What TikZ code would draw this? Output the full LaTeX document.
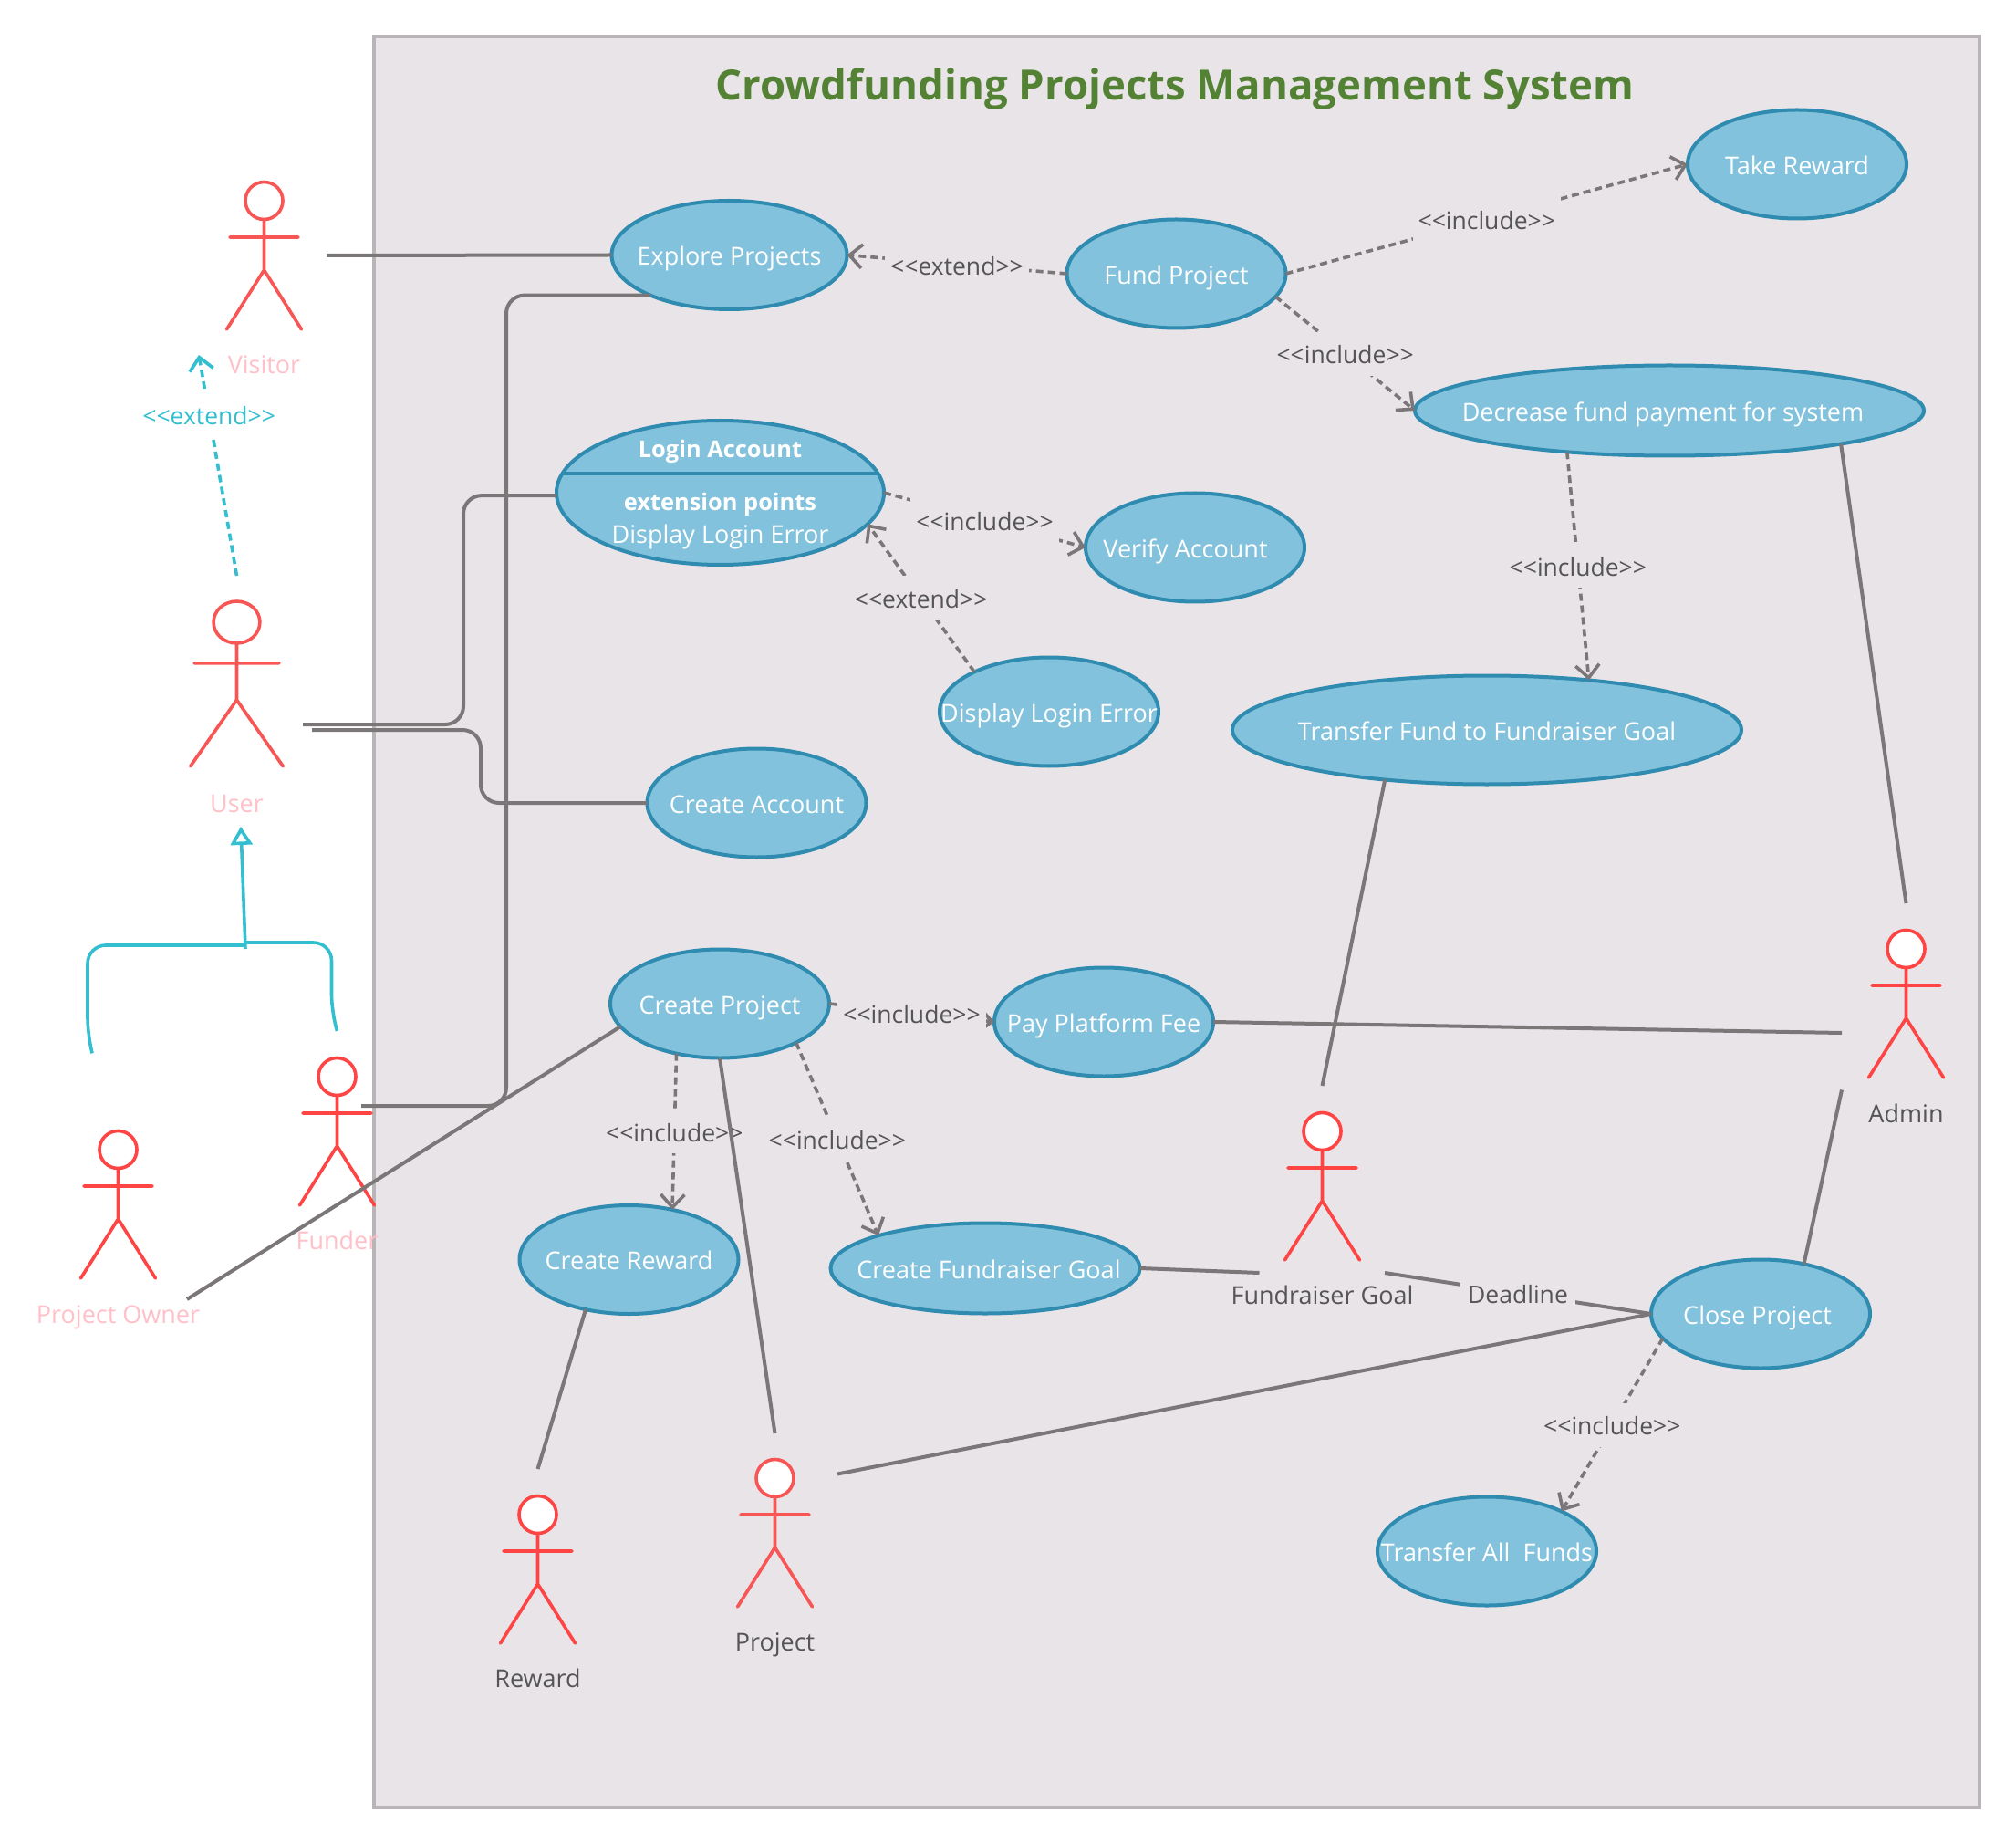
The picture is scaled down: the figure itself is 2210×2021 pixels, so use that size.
\documentclass[tikz,border=0pt]{standalone}
\usepackage{fontspec}
\setmainfont{Open Sans}
\usetikzlibrary{arrows.meta}
\usetikzlibrary{shapes.geometric}
\usetikzlibrary{backgrounds}
\usetikzlibrary{calc}

\definecolor{sysfill}{HTML}{E8E4E8}
\definecolor{sysline}{HTML}{B8B4B8}
\definecolor{ucfill}{HTML}{83C2DC}
\definecolor{ucline}{HTML}{2F8BAF}
\definecolor{linegray}{HTML}{7B7779}
\definecolor{textgray}{HTML}{555555}
\definecolor{actorred}{HTML}{FF4444}
\definecolor{actorsoft}{HTML}{F85555}
\definecolor{actorpink}{HTML}{FFC0C8}
\definecolor{teal}{HTML}{33BFD0}
\definecolor{titlegreen}{HTML}{548235}

\newcommand{\incl}{<{}<include>{}>}
\newcommand{\extd}{<{}<extend>{}>}

\tikzset{
  usecase/.style={ellipse, draw=ucline, fill=ucfill, line width=2pt, inner sep=-30pt, outer sep=0pt,
    minimum width=120pt, minimum height=59.5pt, text=white, text height=11.2pt, text depth=0pt,
    font=\fontsize{13.5}{15}\selectfont},
  ucplain/.style={text=white, inner sep=0pt, text height=9.4pt, text depth=0pt,
    font=\fontsize{13.5}{15}\selectfont},
  assoc/.style={draw=linegray, line width=2pt},
  dep/.style={draw=linegray, line width=1.8pt, dash pattern=on 4pt off 2.5pt,
    -{Straight Barb[length=7pt,width=13pt]}},
  deplabel/.style={fill=sysfill, text=textgray, inner xsep=3pt, inner ysep=0pt, minimum height=24pt,
    text height=11.3pt, text depth=0pt, font=\fontsize{13.25}{15}\selectfont},
  actorlabel/.style={text=actorpink, inner sep=0pt, text height=10pt, text depth=0pt,
    font=\fontsize{13.5}{15}\selectfont},
  entitylabel/.style={text=textgray, inner sep=0pt, text height=10pt, text depth=0pt,
    font=\fontsize{13.5}{15}\selectfont},
  pics/actor/.style={code={
    \draw [line width=1.8pt, draw=#1, fill=white] (0,0) circle [radius=20.5];
    \draw [line width=1.8pt, draw=#1, line cap=round] (0,20.5) -- (0,76)
      (-37.5,40) -- (37.5,40) (-41,141) -- (0,76) -- (41,141);
  }},
  pics/actor/.default=actorred
}

\begin{document}
\begin{tikzpicture}[x=0.5pt,y=-0.5pt]
 \useasboundingbox (0,0) rectangle (2210,2021);

 % use cases
 \node (explore) at (799.5,279.5) [usecase, minimum width=129pt] {Explore Projects};
 \node (fund) at ($ (explore) + (490,20.5) $) [usecase] {Fund Project};
 \node (take) at ($ (fund) + (680.5,-120) $) [usecase] {Take Reward};
 \node (decrease) at ($ (fund) + (540.5,150) $) [usecase, minimum width=279pt, minimum height=49.5pt] {Decrease fund payment for system\kern7pt};
 \node (login) at ($ (explore) + (-10,260.5) $) [usecase, minimum width=179.5pt, minimum height=79pt] {};
 \node (verify) at ($ (login) + (520.5,60) $) [usecase] {Verify Account\kern10.5pt};
 \node (displayerr) at ($ (login) + (360.5,240) $) [usecase] {Display Login Error};
 \node (transferfund) at ($ (decrease) + (-200,350) $) [usecase, minimum width=279pt] {Transfer Fund to Fundraiser Goal};
 \node (account) at ($ (login) + (40,340) $) [usecase] {Create Account};
 \node (createproject) at ($ (account) + (-40.5,220) $) [usecase] {Create Project};
 \node (payfee) at ($ (createproject) + (421,20) $) [usecase] {Pay Platform Fee};
 \node (createreward) at ($ (createproject) + (-99.5,280.5) $) [usecase] {Create Reward};
 \node (creategoal) at ($ (createproject) + (291,290) $) [usecase, minimum width=169.5pt, minimum height=49.5pt] {\kern4pt Create Fundraiser Goal};
 \node (closeproject) at ($ (creategoal) + (850,50) $) [usecase] {Close Project\kern3.5pt};
 \node (transferall) at ($ (closeproject) + (-300,260) $) [usecase] {Transfer All\ \ Funds};

 \node (logintitle) at ($ (login) + (0,-48) $) [ucplain, font=\fontsize{12.7}{15}\selectfont\bfseries] {Login Account};
 \node (loginext) at ($ (login) + (0,10) $) [ucplain, font=\fontsize{12.7}{15}\selectfont\bfseries] {extension points};
 \node (loginpoint) at ($ (login) + (0,46) $) [ucplain] {Display Login Error};
 \draw [draw=ucline, line width=2pt] (login.173) -- (login.7);

 % actors
 \coordinate (visitor) at (289.5,220);
 \coordinate (user) at (259.5,682);
 \coordinate (funder) at (369.5,1180);
 \coordinate (owner) at (129.5,1260);
 \coordinate (reward) at (589.5,1660);
 \coordinate (project) at (849.5,1620);
 \coordinate (goal) at (1449.5,1240);
 \coordinate (admin) at (2089.5,1040);

 \pic (visitorfig) at (visitor) {actor=actorsoft};
 \begin{scope}[shift={(user)},xscale=1.24,yscale=1.12]
   \pic (userfig) [transform shape] {actor=actorsoft};
 \end{scope}
 \pic (funderfig) at (funder) {actor};
 \pic (ownerfig) at (owner) {actor};
 \pic (rewardfig) at (reward) {actor};
 \pic (projectfig) at (project) {actor=actorsoft};
 \pic (goalfig) at (goal) {actor};
 \pic (adminfig) at (admin) {actor};

 \node (visitorlabel) at ($ (visitor) + (0,180) $) [actorlabel] {Visitor};
 \node (userlabel) at ($ (user) + (0,198) $) [actorlabel] {User};
 \node (funderlabel) at ($ (funder) + (0,179) $) [actorlabel] {Funder};
 \node (ownerlabel) at ($ (owner) + (0,180) $) [actorlabel] {Project Owner};
 \node (rewardlabel) at ($ (reward) + (0,179) $) [entitylabel] {Reward};
 \node (projectlabel) at ($ (project) + (0,179) $) [entitylabel] {Project};
 \node (goallabel) at ($ (goal) + (0,179) $) [entitylabel] {Fundraiser Goal};
 \node (adminlabel) at ($ (admin) + (0,180) $) [entitylabel] {Admin};

 % free ends beside the actors
 \coordinate (visitorR) at ($ (visitor) + (68.5,60) $);
 \coordinate (visitorB) at ($ (visitor) + (-71.5,169) $);
 \coordinate (userT) at ($ (user) + (0,-51) $);
 \coordinate (userRa) at ($ (user) + (72.5,112) $);
 \coordinate (userRb) at ($ (user) + (82.5,118) $);
 \coordinate (userB) at ($ (user) + (4.5,224) $);
 \coordinate (funderR) at ($ (funder) + (26.5,32) $);
 \coordinate (funderT) at ($ (funder) + (0,-50) $);
 \coordinate (ownerT) at ($ (owner) + (-28.5,-106) $);
 \coordinate (ownerR) at ($ (owner) + (75.5,164) $);
 \coordinate (rewardT) at ($ (reward) + (0,-50) $);
 \coordinate (projectT) at ($ (project) + (0,-49) $);
 \coordinate (projectR) at ($ (project) + (68.5,-4.5) $);
 \coordinate (goalT) at ($ (goal) + (0,-50) $);
 \coordinate (goalL) at ($ (goal) + (-69,155) $);
 \coordinate (goalR) at ($ (goal) + (68.5,155) $);
 \coordinate (adminT) at ($ (admin) + (0,-50) $);
 \coordinate (adminLa) at ($ (admin) + (-70.5,92) $);
 \coordinate (adminLb) at ($ (admin) + (-70.5,154.5) $);
 \coordinate (genjoin) at (269,1036);
 \coordinate (gentail) at (269,1040);

 % dependencies
 \draw [dep] (fund.west) -- node (extA) [deplabel] {\extd} (explore.east);
 \draw [dep] (fund.east) -- node (incA) [deplabel] {\incl} (take.west);
 \draw [dep] (fund.-13.6) -- node (incB) [deplabel] {\incl} (decrease.west);
 \draw [dep] (decrease.202) -- node (incC) [deplabel] {\incl} (transferfund.26);
 \draw [dep] (login.east) -- node (incD) [deplabel] {\incl} (verify.west);
 \draw [dep] (displayerr.152) -- node (extB) [deplabel] {\extd} (login.-12);
 \draw [dep] (createproject.east) -- node (incE) [deplabel] {\incl} (payfee.west);
 \draw [dep] (createproject.229) -- node (incF) [deplabel] {\incl} (createreward.49);
 \draw [dep] (createproject.-27.7) -- node (incG) [deplabel] {\incl} (creategoal.163);
 \draw [dep] (closeproject.194) -- node (incH) [deplabel] {\incl} (transferall.28);

 % associations
 \draw [assoc] (visitorR) -- (explore.west);
 \draw [assoc, rounded corners=10pt] (explore.207) -| (555,760) |- (funderR);
 \draw [assoc, rounded corners=10pt] (login.181) -| (508,670) |- (userRa);
 \draw [assoc, rounded corners=10pt] (account.west) -| (527,840) |- (userRb);
 \draw [assoc] (ownerR) -- (createproject.193.7);
 \draw [assoc] (createproject.south) -- (projectT);
 \draw [assoc] (createreward.229) -- (rewardT);
 \draw [assoc] (projectR) -- (closeproject.west);
 \draw [assoc] (transferfund.206) -- (goalT);
 \draw [assoc] (decrease.-11.5) -- (adminT);
 \draw [assoc] (payfee.east) -- (adminLa);
 \draw [assoc] (closeproject.49.6) -- (adminLb);
 \draw [assoc] (creategoal.east) -- (goalL);
 \draw [assoc] (goalR) -- node (deadline) [deplabel, inner xsep=4pt] {Deadline} (closeproject.west);

 % generalisation and extend on the left
 \draw [draw=teal, line width=1.8pt, dash pattern=on 4pt off 2.5pt, -{Straight Barb[length=7pt,width=13pt]}]
   (userT) -- node (extC) [pos=0.73, deplabel, fill=white, text=teal] {\extd} (visitorB);
 \draw [draw=teal, line width=1.8pt, rounded corners=10pt] (ownerT) -- ++(-5,-19) |- (genjoin);
 \draw [draw=teal, line width=1.8pt, rounded corners=10pt] (funderT) -- ++(-6,-20) |- ($ (genjoin) + (0,-3) $);
 \draw [draw=teal, line width=1.8pt, -{Triangle[open,length=10pt,width=12pt]}] (gentail) -- (userB);

 \node (title) at (1288,98) [text=titlegreen, inner sep=0pt, font=\fontsize{22.8}{27}\selectfont\bfseries] {Crowdfunding Projects Management System};

 \begin{scope}[on background layer]
   \coordinate (sysnw) at (410,40);
   \coordinate (sysse) at (2170,1981);
   \draw [draw=sysline, fill=sysfill, line width=2pt] (sysnw) rectangle (sysse);
 \end{scope}
\end{tikzpicture}
\end{document}
